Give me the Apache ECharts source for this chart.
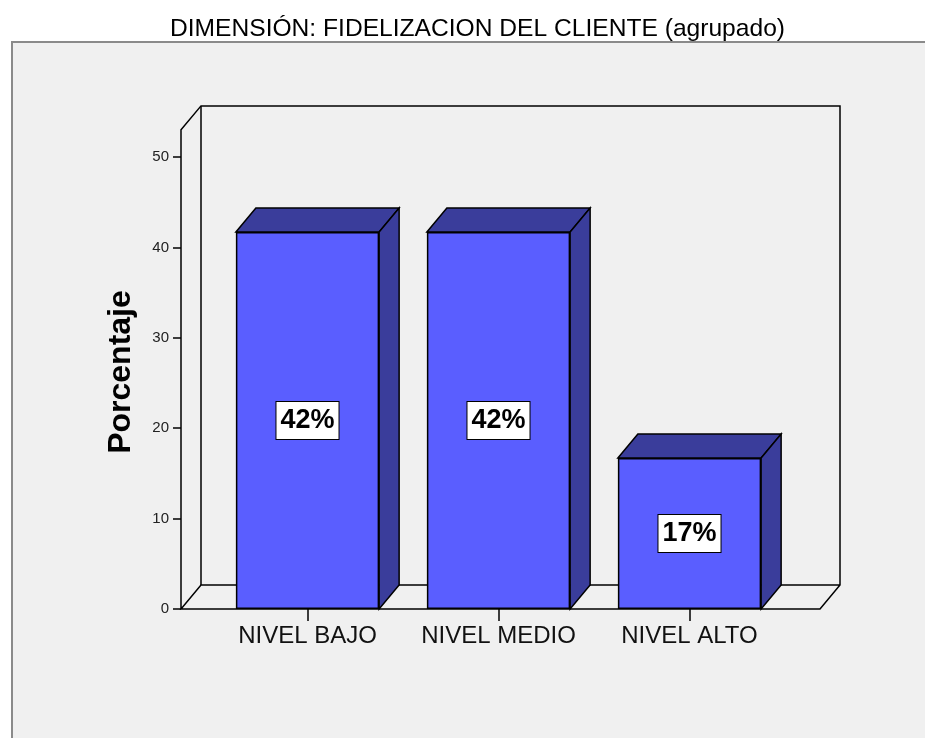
<!DOCTYPE html>
<html lang="es">
<head>
    <meta charset="UTF-8">
    <title>DIMENSIÓN: FIDELIZACION DEL CLIENTE (agrupado)</title>
    <script src="https://cdn.jsdelivr.net/npm/echarts@6/dist/echarts.min.js"></script>
</head>
<style>
    html, body { margin: 0; padding: 0; background: #fff; }
    .box { width: 925px; height: 738px; }
</style>
<body>
    <div class="box" id="box"></div>
    <script>
        // datos del grafico
        var categories = ['NIVEL BAJO', 'NIVEL MEDIO', 'NIVEL ALTO'];
        var percents = [41.7, 41.7, 16.7];
        var yTickStep = 10;
        var yMax = 50;
        var wallTop = 53;   // altura de la caja 3D (en unidades del eje)

        var font = "'Liberation Sans', Arial, sans-serif";
        var depthX = 20, depthY = 24;   // profundidad 3D en px
        var barRatio = 0.75;

        var myChart = echarts.init(document.getElementById('box'));

        // caja de fondo: pared izquierda, pared trasera y suelo
        function renderFrame(params, api) {
            var cs = params.coordSys;
            var base = api.coord([0, 0])[1];
            var top = api.coord([0, wallTop])[1];
            var xl = cs.x - 31;
            var xr = cs.x + cs.width + 35;
            var ln = { stroke: '#000', lineWidth: 1.5, fill: null };
            return {
                type: 'group',
                children: [
                    { type: 'polyline', shape: { points: [[xl, base], [xl, top], [xl + depthX, top - depthY], [xr + depthX, top - depthY], [xr + depthX, base - depthY], [xr, base], [xl, base], [xl + depthX, base - depthY], [xr + depthX, base - depthY]] }, style: ln },
                    { type: 'line', shape: { x1: xl + depthX, y1: top - depthY, x2: xl + depthX, y2: base - depthY }, style: ln }
                ]
            };
        }

        // cara superior y lateral de cada barra
        function renderBar3d(params, api) {
            var i = api.value(0), v = api.value(1);
            var p = api.coord([i, v]);
            var b = api.coord([i, 0]);
            var w = api.size([1, 0])[0] * barRatio;
            var x0 = p[0] - w / 2, x1 = p[0] + w / 2;
            var st = { fill: '#3a3d9b', stroke: '#000', lineWidth: 1.5 };
            return {
                type: 'group',
                children: [
                    { type: 'polygon', shape: { points: [[x0, p[1]], [x0 + depthX, p[1] - depthY], [x1 + depthX, p[1] - depthY], [x1, p[1]]] }, style: st },
                    { type: 'polygon', shape: { points: [[x1, p[1]], [x1 + depthX, p[1] - depthY], [x1 + depthX, b[1] - depthY], [x1, b[1]]] }, style: st }
                ]
            };
        }

        var option = {
            backgroundColor: '#fff',
            animation: false,
            title: {
                text: 'DIMENSIÓN: FIDELIZACION DEL CLIENTE (agrupado)',
                left: 165,
                top: 12,
                textStyle: { fontFamily: font, fontSize: 24.6, fontWeight: 'normal', color: '#000' }
            },
            graphic: [
                {
                    type: 'rect',
                    z: -10,
                    shape: { x: 12, y: 42, width: 940, height: 720 },
                    style: { fill: '#f0f0f0', stroke: '#8a8a8a', lineWidth: 2 }
                },
                {
                    // titulo del eje Y
                    type: 'text',
                    x: 121,
                    y: 372,
                    rotation: Math.PI / 2,
                    style: {
                        text: 'Porcentaje',
                        fontFamily: font,
                        fontSize: 32,
                        fontWeight: 'bold',
                        fill: '#000',
                        textAlign: 'center',
                        textVerticalAlign: 'middle'
                    }
                }
            ],
            grid: { left: 212, right: 140, top: 157, bottom: 129 },
            xAxis: {
                type: 'category',
                data: categories,
                axisLine: { show: false },
                axisTick: { show: true, alignWithLabel: true, length: 12, lineStyle: { color: '#000', width: 1.5 } },
                axisLabel: { interval: 0, fontFamily: font, fontSize: 24, color: '#111', margin: 15 },
                splitLine: { show: false }
            },
            yAxis: {
                type: 'value',
                min: 0,
                max: yMax,
                interval: yTickStep,
                offset: 31,
                axisLine: { show: false },
                axisTick: { show: true, length: 8, lineStyle: { color: '#000', width: 1.5 } },
                axisLabel: { fontFamily: font, fontSize: 15, color: '#222', margin: 12 },
                splitLine: { show: false }
            },
            series: [
                {
                    type: 'custom',
                    z: 1,
                    silent: true,
                    renderItem: renderFrame,
                    data: [[0, 0]]
                },
                {
                    type: 'bar',
                    z: 2,
                    barWidth: (barRatio * 100) + '%',
                    data: percents,
                    itemStyle: { color: '#5a5eff', borderColor: '#000', borderWidth: 1.5 },
                    label: {
                        show: true,
                        position: 'inside',
                        formatter: function (p) { return Math.round(p.value) + '%'; },
                        fontFamily: font,
                        fontSize: 27,
                        fontWeight: 'bold',
                        color: '#000',
                        backgroundColor: '#fff',
                        borderColor: '#000',
                        borderWidth: 1,
                        padding: [6, 4, 4, 4]
                    }
                },
                {
                    type: 'custom',
                    z: 3,
                    renderItem: renderBar3d,
                    data: percents.map(function (v, i) { return [i, v]; })
                }
            ]
        };

        myChart.setOption(option);
    </script>
</body>
</html>
